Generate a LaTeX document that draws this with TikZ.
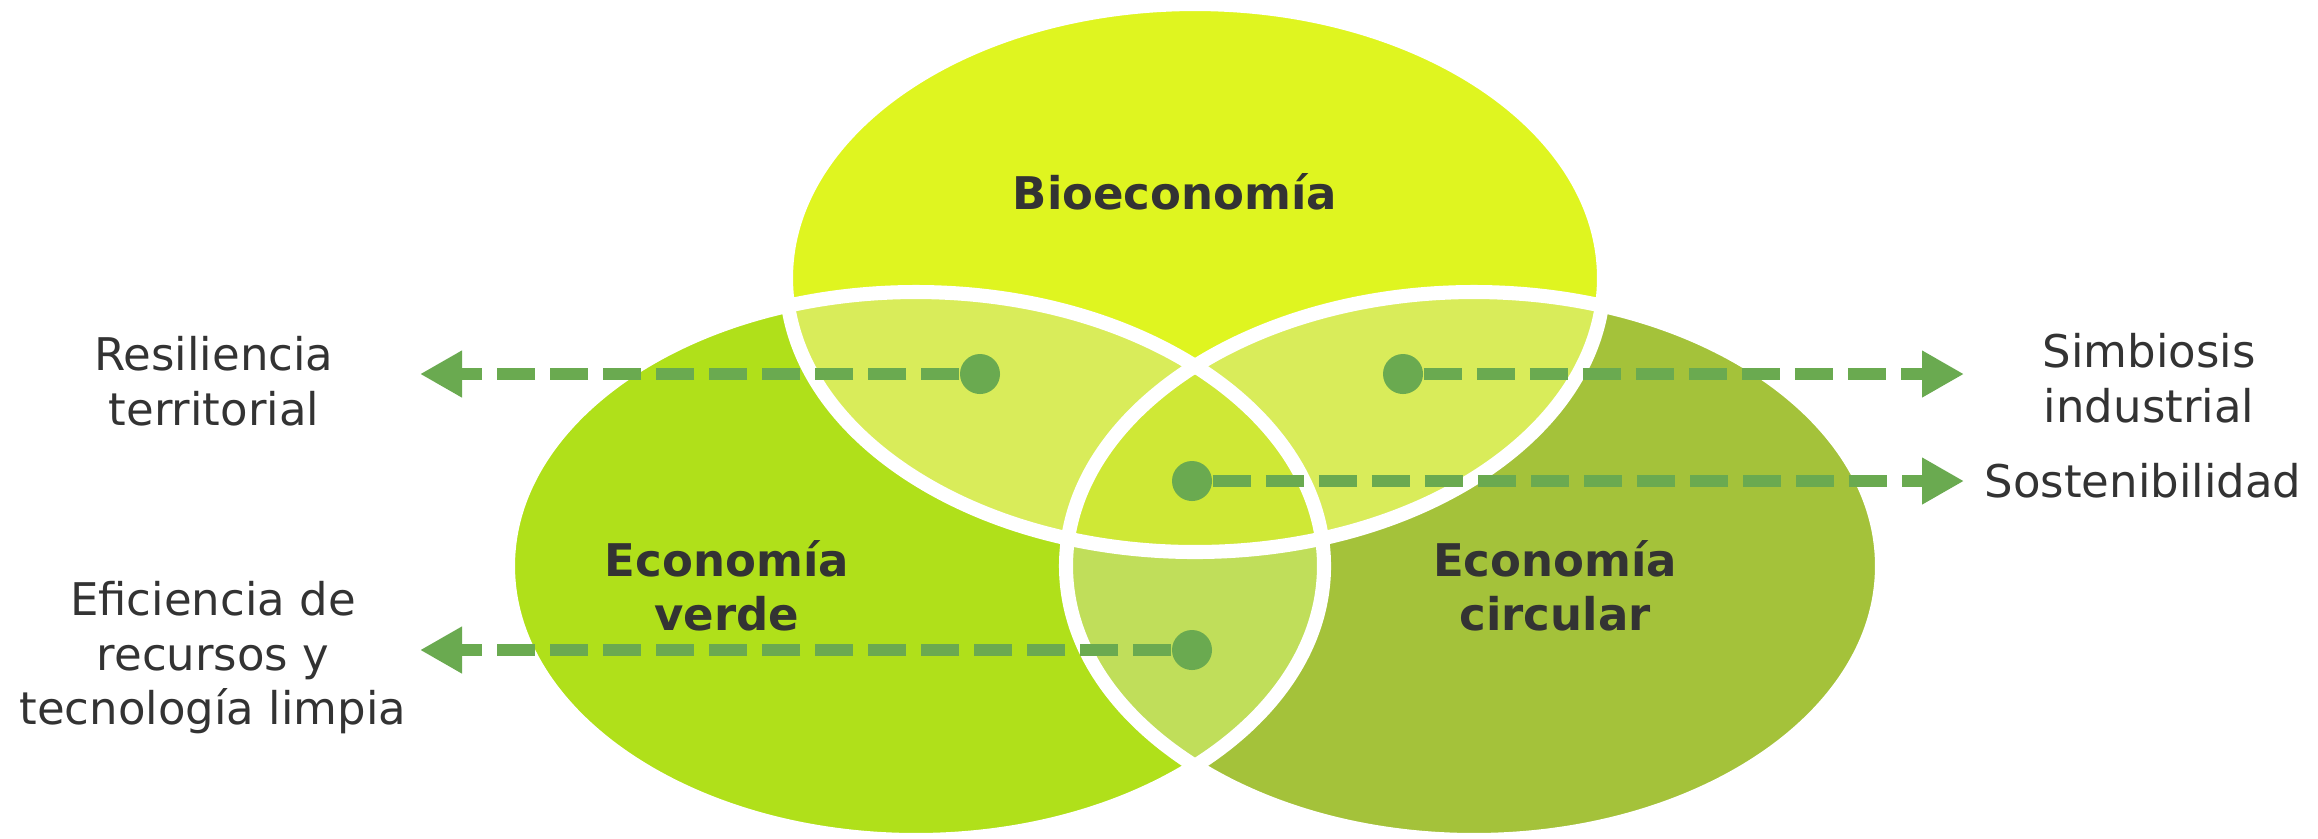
\documentclass[tikz,border=0pt]{standalone}
\usepackage{fontspec}
\setmainfont{DejaVu Sans}
\usetikzlibrary{arrows.meta}
\definecolor{bioyellow}{RGB}{223, 245, 32}
\definecolor{verdelime}{RGB}{176, 224, 26}
\definecolor{circolive}{RGB}{164, 194, 58}
\definecolor{lensupper}{RGB}{217, 236, 90}
\definecolor{lenslower}{RGB}{192, 222, 90}
\definecolor{lenscenter}{RGB}{207, 232, 54}
\definecolor{arrowgreen}{RGB}{106, 170, 80}
\definecolor{textgray}{RGB}{51, 51, 51}

\begin{document}
\begin{tikzpicture}[x=0.01cm, y=-0.01cm, font=\fontsize{12.8}{15.5}\selectfont,
    elBio/.style={insert path={(1195,278) ellipse [x radius=409, y radius=274]}},
    elVerde/.style={insert path={(916,566) ellipse [x radius=408, y radius=274]}},
    elCirc/.style={insert path={(1474,566) ellipse [x radius=408, y radius=274]}},
    titulo/.style={font=\fontsize{12.8}{15.5}\selectfont\bfseries, text=textgray, align=center, inner sep=0pt},
    etiqueta/.style={text=textgray, align=center, inner sep=0pt},
    punto/.style={circle, fill=arrowgreen, minimum size=0.40cm, inner sep=0pt},
    flecha/.style={line width=3.6pt, draw=arrowgreen, dash pattern=on 0.38cm off 0.15cm, -{Triangle[length=0.42cm, width=0.44cm]}}]
    \useasboundingbox (0,0) rectangle (2318,838);

    \fill[bioyellow, elBio];
    \fill[verdelime, elVerde];
    \fill[circolive, elCirc];

    \begin{scope}
        \clip[elBio];
        \fill[lensupper, elVerde];
        \fill[lensupper, elCirc];
    \end{scope}
    \begin{scope}
        \clip[elVerde];
        \fill[lenslower, elCirc];
    \end{scope}
    \begin{scope}
        \clip[elBio];
        \clip[elVerde];
        \fill[lenscenter, elCirc];
    \end{scope}

    \draw[white, line width=4pt, elBio];
    \draw[white, line width=4pt, elVerde];
    \draw[white, line width=4pt, elCirc];

    \node[titulo, anchor=base] (tBio) at (1175,209) {Bioeconomía};
    \node[titulo] (tVerde) at (727,586) {Economía\\verde};
    \node[titulo] (tCirc) at (1555,586) {Economía\\circular};

    \node[etiqueta] (resil) at (214,381) {Resiliencia\\territorial};
    \node[etiqueta] (efic) at (213,658) {Eficiencia de\\recursos y\\tecnología limpia};
    \node[etiqueta] (simb) at (2149,378) {Simbiosis\\industrial};
    \node[etiqueta, anchor=base west] (sost) at (1984,497) {Sostenibilidad};

    \node[punto] (pResil) at (980,374) {};
    \node[punto] (pSimb) at (1403,374) {};
    \node[punto] (pSost) at (1192,481) {};
    \node[punto] (pEfic) at (1192,650) {};

    \coordinate (fResil) at (420,374);
    \coordinate (fEfic) at (420,650);
    \coordinate (fSimb) at (1964,374);
    \coordinate (fSost) at (1964,481);

    \draw[flecha] (pResil) -- (fResil);
    \draw[flecha] (pEfic) -- (fEfic);
    \draw[flecha] (pSimb) -- (fSimb);
    \draw[flecha] (pSost) -- (fSost);
\end{tikzpicture}
\end{document}
